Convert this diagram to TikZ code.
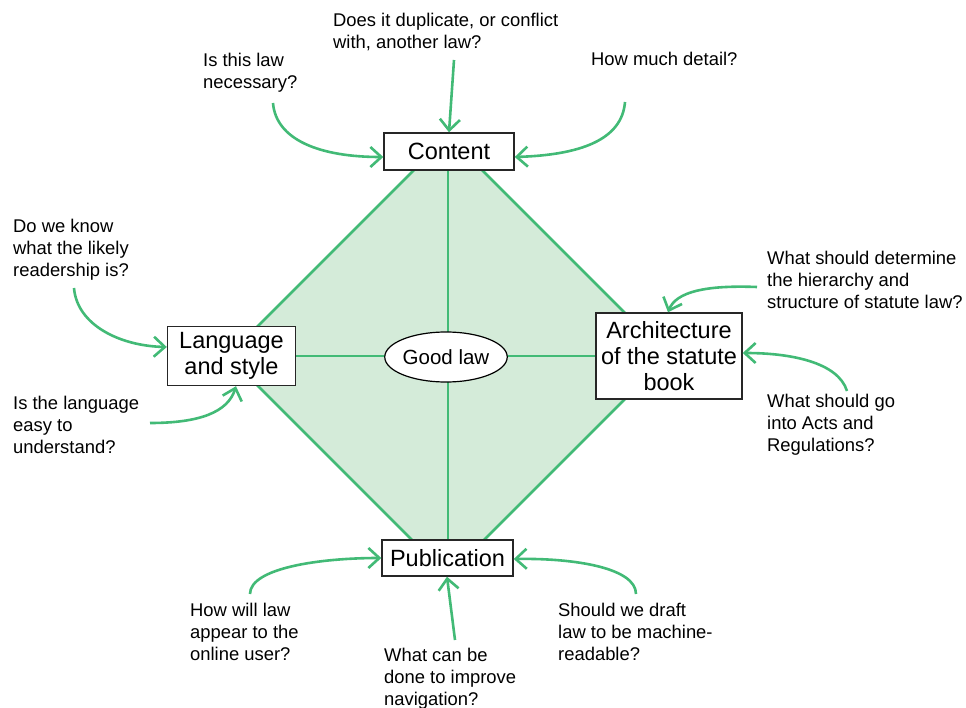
\documentclass[tikz,border=0pt]{standalone}
\usepackage{fontspec}
\setmainfont{Liberation Sans}
\usetikzlibrary{arrows.meta,shapes.geometric}

\definecolor{lawgreen}{RGB}{66,186,118}
\definecolor{lawfill}{RGB}{212,235,217}

\tikzset{
  topic/.style={draw=black!85, line width=1.4pt, fill=white, inner sep=0pt,
    align=center, font=\fontsize{23.5}{26}\selectfont},
  % anchored at the baseline of the last line
  question/.style={anchor=base west, inner sep=0pt, align=left,
    font=\fontsize{18.4}{22}\selectfont},
  feed/.style={draw=lawgreen, line width=2.6pt,
    -{Straight Barb[length=11pt,width=20pt,line width=2.6pt]}},
  spoke/.style={draw=lawgreen, line width=2.6pt}
}

\begin{document}
\begin{tikzpicture}[x=1pt,y=-1pt]
\useasboundingbox (0,0) rectangle (966,708);

% diamond frame with its two axes
\coordinate (dt) at (448,136);
\coordinate (dl) at (228,356);
\coordinate (dr) at (668,356);
\coordinate (db) at (448,576);
\fill[lawfill] (dt) -- (dr) -- (db) -- (dl) -- cycle;
\draw[spoke, line join=round] (dt) -- (dr) -- (db) -- (dl) -- cycle;
\draw[spoke] (dt) -- (db);
\draw[spoke] (dl) -- (dr);

% centre
\node[draw=black, line width=1.2pt, fill=white, ellipse, minimum width=106pt,
  minimum height=50pt, inner sep=0pt, font=\fontsize{20.5}{24}\selectfont]
  (good) at (446,357) {Good law};

% the four topics
\node[topic, minimum width=130pt, minimum height=37pt] (content) at (449,151.5) {Content};
\node[topic, minimum width=128pt, minimum height=59pt] (lang) at (231.5,356) {Language\\and style};
\node[topic, minimum width=146pt, minimum height=86pt] (arch) at (669,356) {Architecture\\of the statute\\book};
\node[topic, minimum width=131pt, minimum height=36pt] (pub) at (447.5,558) {Publication};

% questions
\node[question] (q1) at (333,49) {Does it duplicate, or conflict\\with, another law?};
\node[question] (q2) at (203,89) {Is this law\\necessary?};
\node[question] (q3) at (591,66) {How much detail?};
\node[question] (q4) at (13,277) {Do we know\\what the likely\\readership is?};
\node[question] (q5) at (13,453) {Is the language\\easy to\\understand?};
\node[question] (q6) at (767,309) {What should determine\\the hierarchy and\\structure of statute law?};
\node[question] (q7) at (767,451) {What should go\\into Acts and\\Regulations?};
\node[question] (q8) at (190,660) {How will law\\appear to the\\online user?};
\node[question] (q9) at (384,705) {What can be\\done to improve\\navigation?};
\node[question] (q10) at (558,660) {Should we draft\\law to be machine-\\readable?};

% free ends of the feeding arrows
\coordinate (s1) at (454,60);
\coordinate (s2) at (273,103);
\coordinate (s3) at (625,102);
\coordinate (s4) at (74,288);
\coordinate (s5) at (150,423);
\coordinate (s6) at (757,287);
\coordinate (s7) at (847,391);
\coordinate (s8) at (250,594);
\coordinate (s9) at (455,640);
\coordinate (s10) at (636,594);

% arrows into the topics
\draw[feed] (s1) -- (content.north -| 449,0);
\draw[feed] (s2) .. controls (276,140) and (320,157) .. (content.west |- 0,157);
\draw[feed] (s3) .. controls (622,140) and (580,155) .. (content.east |- 0,157);
\draw[feed] (s4) .. controls (77,325) and (120,346) .. (lang.west |- 0,347);
\draw[feed] (s5) .. controls (200,423) and (228,412) .. (lang.south -| 236,0);
\draw[feed] (s6) .. controls (705,285) and (676,292) .. (arch.north -| 668,0);
\draw[feed] (s7) .. controls (838,362) and (790,353) .. (arch.east |- 0,353);
\draw[feed] (s8) .. controls (250,568) and (320,558) .. (pub.west |- 0,558);
\draw[feed] (s9) -- (pub.south -| 447,0);
\draw[feed] (s10) .. controls (636,568) and (575,558) .. (pub.east |- 0,559);
\end{tikzpicture}
\end{document}
